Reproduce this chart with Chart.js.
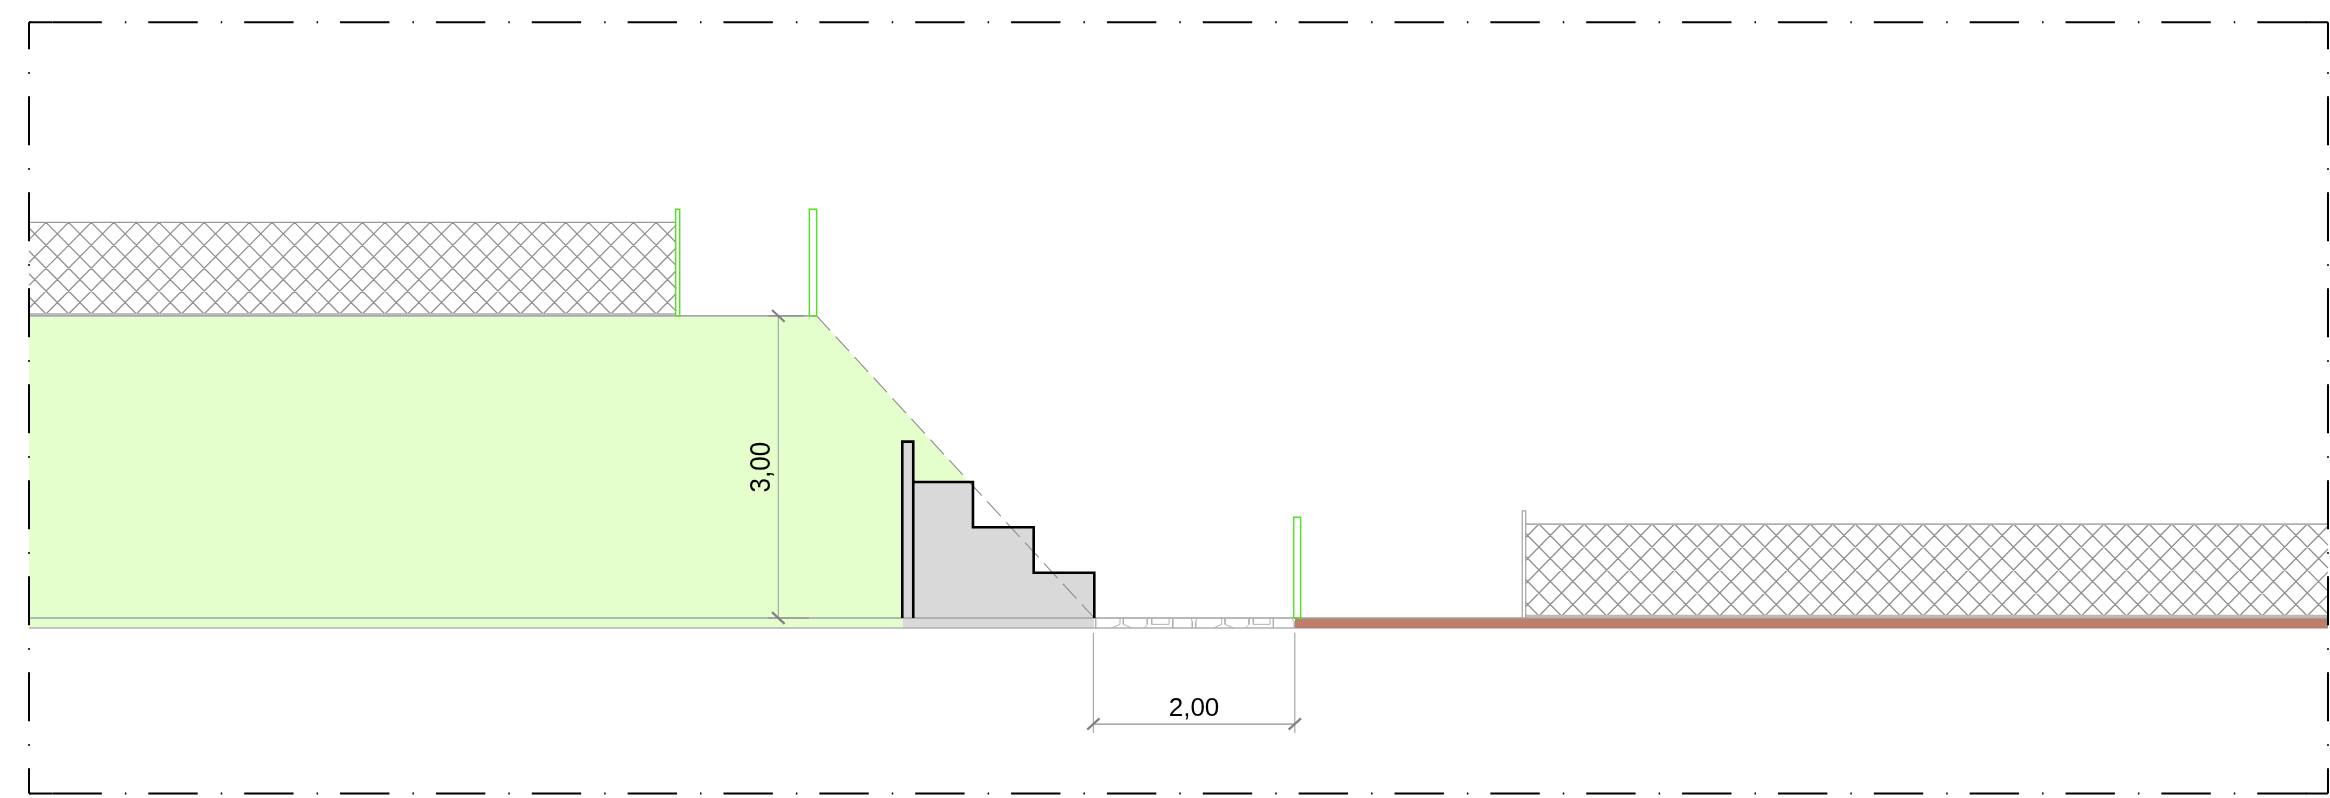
<!DOCTYPE html>
<html>
<head>
<meta charset="utf-8">
<style>html,body{margin:0;padding:0;background:#fff}canvas{display:block}</style>
<script src="https://cdn.jsdelivr.net/npm/chart.js@4/dist/chart.umd.min.js"></script>
</head>
<body>
<canvas id="c" width="2330" height="798"></canvas>
<script>
// All geometry in metres: x from the left sheet edge, y above ground level.
const xRange = [-0.288, 22.850];
const yRange = [-1.7875, 6.137];

const frameX = [0, 22.83];
const frameY = [-1.743, 5.916];
const frameCornerX = [[0, 0.233], [22.61, 22.83]];

const embankmentTop = [[0, 3.0], [7.822, 3.0], [9.335, 1.351]];
const slopeLine = [[7.822, 3.0], [10.579, 0]];
const embankmentCrest = [[0, 3.0], [7.822, 3.0]];
const slabLevels = [0, -0.099];
const greenSlabX = [0, 8.672];
const greySlabX = [8.672, 10.579];
const brickX = [12.572, 22.83];

const retainingWall = [[8.672, 0], [8.672, 1.751], [8.781, 1.751], [8.781, 0]];
const stairProfile = [[8.781, 1.351], [9.374, 1.351], [9.374, 0.901], [9.977, 0.901], [9.977, 0.45], [10.579, 0.45], [10.579, 0]];

const postA = { x: [6.422, 6.462], y: [3.0, 4.059] };
const postB = { x: [7.749, 7.822], y: [3.0, 4.059] };
const postC = { x: [12.559, 12.628], y: [0, 1.0] };
const postD = { x: [14.829, 14.863], y: [0, 1.063] };

const leftFence = { x: [0, 6.425], y: [3.019, 3.929] };
const rightFence = { x: [14.863, 22.83], y: [0.02, 0.933] };
const meshSpan = 0.898;
const leftMeshNodes = [-0.729,-0.504,-0.280,-0.055,0.169,0.393,0.618,0.842,1.067,1.291,1.515,1.740,1.964,2.189,2.413,2.637,2.862,3.086,3.311,3.535,3.759,3.984,4.208,4.433,4.657,4.881,5.106,5.330,5.555,5.779,6.003,6.228,6.452,6.677,6.901,7.125,7.350];
const rightMeshNodes = [14.097,14.321,14.546,14.770,14.995,15.219,15.443,15.668,15.892,16.117,16.341,16.565,16.790,17.014,17.239,17.463,17.687,17.912,18.136,18.361,18.585,18.809,19.034,19.258,19.483,19.707,19.931,20.156,20.380,20.605,20.829,21.053,21.278,21.502,21.727,21.951,22.175,22.400,22.624,22.849,23.073,23.297,23.522,23.746];

const paverStrokes = [
  [[10.593,0],[10.593,-0.099]],
  [[10.752,-0.099],[10.834,-0.063],[10.834,0]],
  [[10.867,0],[10.867,-0.063],[10.951,-0.099]],
  [[11.105,0],[11.105,-0.063],[11.073,-0.099]],
  [[11.149,0],[11.149,-0.063],[11.321,-0.063],[11.321,0]],
  [[11.358,0],[11.358,-0.099]],
  [[11.539,0],[11.552,-0.037],[11.552,-0.099]],
  [[11.602,0],[11.586,-0.037],[11.586,-0.099]],
  [[11.761,-0.099],[11.844,-0.063],[11.844,0]],
  [[11.877,0],[11.877,-0.063],[11.959,-0.099]],
  [[12.115,0],[12.115,-0.063],[12.082,-0.099]],
  [[12.158,0],[12.158,-0.063],[12.324,-0.063],[12.324,0]],
  [[12.357,0],[12.357,-0.099]],
  [[12.539,0],[12.565,-0.037],[12.565,-0.099]]
];

const heightDim = { x: 7.441, y: [0, 3.0], extX: [[7.339, 7.745], [7.339, 7.70]], tickDX: 0.0625, tickDY: 0.0585 };
const widthDim = { y: -1.053, x: [10.57, 12.57], extY: [-0.146, -1.142], tickDX: 0.061, tickDY: 0.056 };
const dimLabels = ['3,00', '2,00'];
const dimLabelPos = [[7.363, 1.498], [11.569, -0.973]];

const GREEN = '#e5ffcc', POST = '#4fe31c', MESH = '#909090', RULE = '#a9a9a9', DIM = '#808080', INK = '#000';

const toPts = a => a.map(p => ({ x: p[0], y: p[1] }));
const ds = (pairs, o) => Object.assign({ data: toPts(pairs), showLine: true, pointRadius: 0, pointHoverRadius: 0, tension: 0, fill: false, clip: false, borderColor: '#000', borderWidth: 1 }, o);
const joined = strokes => strokes.flatMap((s, i) => i ? [[NaN, NaN], ...s] : s);

function meshStrokes(nodes, fence) {
  const [xa, xb] = fence.x, [yb, yt] = fence.y, out = [];
  const clip = (x0, x1) => {
    const t = v => yt + (yb - yt) * (v - x0) / (x1 - x0);
    const lo = Math.min(x0, x1), hi = Math.max(x0, x1);
    const l = Math.max(lo, xa), h = Math.min(hi, xb);
    if (l >= h) return;
    const a = x0 < x1 ? l : h, b = x0 < x1 ? h : l;
    out.push([[a, t(a)], [b, t(b)]]);
  };
  nodes.forEach(n => { clip(n, n + meshSpan); clip(n, n - meshSpan); });
  return out;
}
const rect = (x, y) => [[x[0], y[0]], [x[0], y[1]], [x[1], y[1]], [x[1], y[0]], [x[0], y[0]]];
const band = (x, y) => [[x[0], y], [x[1], y]];
const area = (pairs, base, color) => ds(pairs, { borderWidth: 0, borderColor: 'transparent', fill: { target: { value: base } }, backgroundColor: color });

const layers = [
  area(embankmentTop, 0, GREEN),
  area(band(greenSlabX, slabLevels[0]), slabLevels[1], GREEN),
  area(band(greySlabX, slabLevels[0]), slabLevels[1], '#d9d9d9'),
  area(band(brickX, slabLevels[0]), slabLevels[1], '#bd7f6a'),
  area(band([8.672, 8.781], 1.751), 0, '#d9d9d9'),
  area(stairProfile, 0, '#d9d9d9'),
  ds(slopeLine, { borderColor: '#8c8c8c', borderWidth: 1.1, borderDash: [20, 8] }),
  ds(embankmentCrest, { borderColor: RULE, borderWidth: 1.6 }),
  ds(band([0, 22.83], slabLevels[0]), { borderColor: '#a2a2a2', borderWidth: 1.4 }),
  ds(band([0, 12.572], slabLevels[1]), { borderColor: '#b0b0b0', borderWidth: 1.4 }),
  ds(band(brickX, slabLevels[1]), { borderColor: '#a5786a', borderWidth: 1 }),
  ds(joined(paverStrokes), { borderColor: '#b0b0b0', borderWidth: 1 }),
  ds(retainingWall, { borderColor: INK, borderWidth: 2.6 }),
  ds(stairProfile, { borderColor: INK, borderWidth: 2.6 }),
  ds(joined(meshStrokes(leftMeshNodes, leftFence)), { borderColor: MESH, borderWidth: 1.3 }),
  ds(band(leftFence.x, leftFence.y[1]), { borderColor: '#999', borderWidth: 1.4 }),
  ds(band(leftFence.x, leftFence.y[0]), { borderColor: '#bdbdbd', borderWidth: 2 }),
  ds(joined(meshStrokes(rightMeshNodes, rightFence)), { borderColor: MESH, borderWidth: 1.3 }),
  ds(band(rightFence.x, rightFence.y[1]), { borderColor: '#b0b0b0', borderWidth: 1.8 }),
  ds(band(rightFence.x, rightFence.y[0]), { borderColor: '#bdb8b5', borderWidth: 2.5 }),
  ds(rect(postA.x, postA.y), { borderColor: POST, borderWidth: 1.4 }),
  ds(rect(postB.x, postB.y), { borderColor: POST, borderWidth: 1.4 }),
  ds(rect(postC.x, postC.y), { borderColor: POST, borderWidth: 1.4 }),
  ds(rect(postD.x, postD.y), { borderColor: '#a8a8a8', borderWidth: 1.3 }),
  ds([[heightDim.x, heightDim.y[0]], [heightDim.x, heightDim.y[1]]], { borderColor: RULE, borderWidth: 1.2 }),
  ds(band(heightDim.extX[0], heightDim.y[0]), { borderColor: '#8f8f8f', borderWidth: 1.2 }),
  ds(band(heightDim.extX[1], heightDim.y[1]), { borderColor: '#8f8f8f', borderWidth: 1.2 }),
  ...heightDim.y.map(y => ds([[heightDim.x - heightDim.tickDX, y + heightDim.tickDY], [heightDim.x + heightDim.tickDX, y - heightDim.tickDY]], { borderColor: DIM, borderWidth: 2.2 })),
  ...widthDim.x.map(x => ds([[x, widthDim.extY[0]], [x, widthDim.extY[1]]], { borderColor: RULE, borderWidth: 1.2 })),
  ds(band(widthDim.x, widthDim.y), { borderColor: '#8f8f8f', borderWidth: 1.2 }),
  ...widthDim.x.map(x => ds([[x - widthDim.tickDX, widthDim.y - widthDim.tickDY], [x + widthDim.tickDX, widthDim.y + widthDim.tickDY]], { borderColor: DIM, borderWidth: 2.2 })),
  ds(band(frameX, frameY[1]), { borderColor: INK, borderWidth: 2, borderDash: [49.4, 23, 1.5, 21.96], borderDashOffset: 72.4 }),
  ds(band(frameX, frameY[0]), { borderColor: INK, borderWidth: 2, borderDash: [49.4, 23, 1.5, 21.96], borderDashOffset: 72.4 }),
  ds([[frameX[0], frameY[1]], [frameX[0], frameY[0]]], { borderColor: INK, borderWidth: 2, borderDash: [49, 23, 1.5, 22.5], borderDashOffset: 22 }),
  ds([[frameX[1], frameY[1]], [frameX[1], frameY[0]]], { borderColor: INK, borderWidth: 2, borderDash: [49, 23, 1.5, 22.5], borderDashOffset: 22 }),
  ...frameCornerX.flatMap(cx => frameY.map(y => ds(band(cx, y), { borderColor: INK, borderWidth: 2 })))
];
// Chart.js paints lower "order" on top, so give later layers lower order.
layers.forEach((d, i) => { d.order = layers.length - i; });

const dimText = {
  id: 'dimText',
  afterDatasetsDraw(chart) {
    const { ctx, scales: { x, y } } = chart;
    ctx.save();
    ctx.fillStyle = '#000';
    ctx.font = '26px "Liberation Sans", Arial, sans-serif';
    ctx.textAlign = 'center';
    ctx.textBaseline = 'alphabetic';
    dimLabels.forEach((t, i) => {
      const px = x.getPixelForValue(dimLabelPos[i][0]);
      const py = y.getPixelForValue(dimLabelPos[i][1]);
      ctx.save();
      ctx.translate(px, py);
      if (i === 0) { ctx.rotate(-Math.PI / 2); ctx.scale(1, 1.1); }
      ctx.fillText(t, 0, 0);
      ctx.restore();
    });
    ctx.restore();
  }
};

new Chart(document.getElementById('c'), {
  type: 'scatter',
  data: { datasets: layers },
  options: {
    responsive: false,
    animation: false,
    devicePixelRatio: 1,
    layout: { padding: 0 },
    events: [],
    plugins: { legend: { display: false }, tooltip: { enabled: false }, title: { display: false } },
    scales: {
      x: { type: 'linear', display: false, min: xRange[0], max: xRange[1] },
      y: { type: 'linear', display: false, min: yRange[0], max: yRange[1] }
    }
  },
  plugins: [dimText]
});
</script>
</body>
</html>
